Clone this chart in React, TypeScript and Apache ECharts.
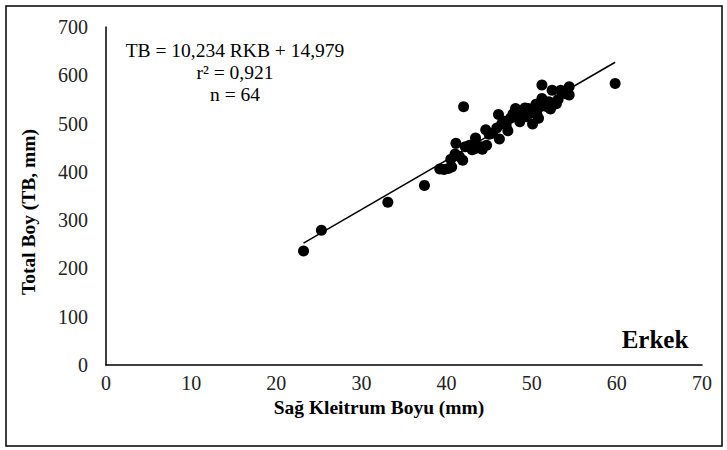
import React, { useEffect, useRef } from "react";
import * as echarts from "echarts";

const xTicks = [0, 10, 20, 30, 40, 50, 60, 70];
const yTicks = [0, 100, 200, 300, 400, 500, 600, 700];

// Sağ Kleitrum Boyu (mm)
const rkb = [
  23.2, 25.3, 33.1, 37.4, 42.0, 59.8, 51.2,
  39.2, 39.7, 40.2, 40.6, 40.5, 41.0, 41.1, 41.5, 41.9, 42.2,
  42.7, 43.0, 43.4, 43.3, 44.0, 44.2, 44.6, 44.7, 45.0, 45.4,
  45.9, 46.1, 46.2, 46.5, 46.8, 47.2, 47.5, 47.8, 48.1, 48.3,
  48.6, 48.8, 49.0, 49.2, 49.4, 49.6, 49.9, 50.1, 50.3, 50.5,
  50.8, 51.0, 51.2, 51.5, 51.8, 52.0, 52.2, 52.4, 52.6, 52.9,
  53.1, 53.4, 54.0, 54.4, 54.4, 47.0, 50.6,
];
// Total Boy (TB, mm)
const tb = [
  236, 279, 337, 372, 535, 583, 580,
  406, 405, 407, 410, 426, 437, 459, 432, 424, 452,
  455, 446, 470, 448, 452, 447, 487, 455, 478, 480,
  491, 519, 468, 500, 505, 485, 511, 520, 531, 513,
  504, 525, 521, 532, 514, 531, 522, 499, 527, 540,
  511, 535, 552, 540, 535, 545, 530, 569, 540, 541,
  550, 569, 562, 576, 559, 497, 519,
];

const slope = 10.234;
const intercept = 14.979;
const equationLines = ["TB = 10,234 RKB + 14,979", "r² = 0,921", "n = 64"];

const FONT = "Liberation Serif";

export default function App() {
  const ref = useRef<HTMLDivElement>(null);
  useEffect(() => {
    if (!ref.current) return;
    const chart = echarts.init(ref.current, null, { renderer: "svg" });
    const points = rkb.map((x, i) => [x, tb[i]]);
    const xMin = Math.min(...rkb);
    const xMax = Math.max(...rkb);
    const fit = [
      [xMin, slope * xMin + intercept],
      [xMax, slope * xMax + intercept],
    ];
    chart.setOption({
      animation: false,
      backgroundColor: "#fff",
      textStyle: { fontFamily: FONT },
      grid: { left: 106, top: 27, right: 25, bottom: 85 },
      xAxis: {
        type: "value",
        min: xTicks[0],
        max: xTicks[xTicks.length - 1],
        interval: 10,
        splitLine: { show: false },
        axisTick: { show: false },
        axisLine: { lineStyle: { color: "#000", width: 1.5 } },
        axisLabel: { color: "#222", fontFamily: FONT, fontSize: 20, margin: 8 },
      },
      yAxis: {
        type: "value",
        min: yTicks[0],
        max: yTicks[yTicks.length - 1],
        interval: 100,
        splitLine: { show: false },
        axisTick: { show: false },
        axisLine: { show: true, lineStyle: { color: "#000", width: 1.5 } },
        axisLabel: { color: "#222", fontFamily: FONT, fontSize: 20, margin: 18 },
      },
      series: [
        {
          type: "line",
          data: fit,
          symbol: "none",
          lineStyle: { color: "#000", width: 1.5 },
          silent: true,
          z: 1,
        },
        {
          type: "scatter",
          data: points,
          symbol: "circle",
          symbolSize: 11,
          itemStyle: { color: "#000", opacity: 1 },
          z: 2,
        },
      ],
      graphic: [
        {
          type: "rect",
          shape: { x: 6, y: 6, width: 716, height: 440 },
          style: { fill: "none", stroke: "#000", lineWidth: 1.5 },
          silent: true,
        },
        ...equationLines.map((t, i) => ({
          type: "text",
          x: 235,
          y: 50 + i * 22,
          style: {
            text: t,
            fontFamily: FONT,
            fontSize: 19.5,
            fill: "#000",
            align: "center",
            verticalAlign: "middle",
          },
        })),
        {
          type: "text",
          x: 655,
          y: 339,
          style: {
            text: "Erkek",
            fontFamily: FONT,
            fontSize: 25,
            fontWeight: "bold",
            fill: "#000",
            align: "center",
            verticalAlign: "middle",
          },
        },
        {
          type: "text",
          x: 379,
          y: 407,
          style: {
            text: "Sağ Kleitrum Boyu (mm)",
            fontFamily: FONT,
            fontSize: 19.5,
            fontWeight: "bold",
            fill: "#000",
            align: "center",
            verticalAlign: "middle",
          },
        },
        {
          type: "text",
          x: 28,
          y: 212,
          rotation: Math.PI / 2,
          style: {
            text: "Total Boy (TB, mm)",
            fontFamily: FONT,
            fontSize: 19.5,
            fontWeight: "bold",
            fill: "#000",
            align: "center",
            verticalAlign: "middle",
          },
        },
      ],
    });
    return () => chart.dispose();
  }, []);
  return (
    <div
      ref={ref}
      style={{ position: "fixed", left: 0, top: 0, width: 727, height: 450 }}
    />
  );
}
